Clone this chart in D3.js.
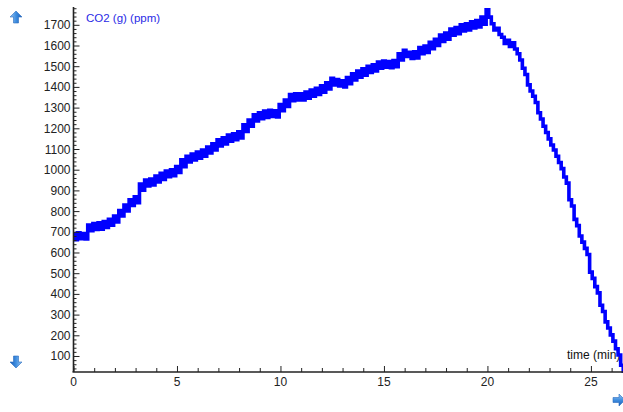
<!DOCTYPE html>
<html><head><meta charset="utf-8">
<script src="https://cdn.jsdelivr.net/npm/d3@7"></script>
<style>html,body{margin:0;padding:0;background:#fff;overflow:hidden}svg{display:block}</style>
</head><body>
<svg id="chart" width="623" height="412"></svg>
<script>
// ---- data (time in min, CO2 in ppm) ----
const timeMin = [
0,0.125,0.25,0.375,0.5,0.625,0.75,0.875,1,1.125,1.25,1.375,1.5,1.625,1.75,1.875,
2,2.125,2.25,2.375,2.5,2.625,2.75,2.875,3,3.125,3.25,3.375,3.5,3.625,3.75,3.875,
4,4.125,4.25,4.375,4.5,4.625,4.75,4.875,5,5.125,5.25,5.375,5.5,5.625,5.75,5.875,
6,6.125,6.25,6.375,6.5,6.625,6.75,6.875,7,7.125,7.25,7.375,7.5,7.625,7.75,7.875,
8,8.125,8.25,8.375,8.5,8.625,8.75,8.875,9,9.125,9.25,9.375,9.5,9.625,9.75,9.875,
10,10.125,10.25,10.375,10.5,10.625,10.75,10.875,11,11.125,11.25,11.375,11.5,11.625,11.75,11.875,
12,12.125,12.25,12.375,12.5,12.625,12.75,12.875,13,13.125,13.25,13.375,13.5,13.625,13.75,13.875,
14,14.125,14.25,14.375,14.5,14.625,14.75,14.875,15,15.125,15.25,15.375,15.5,15.625,15.75,15.875,
16,16.125,16.25,16.375,16.5,16.625,16.75,16.875,17,17.125,17.25,17.375,17.5,17.625,17.75,17.875,
18,18.125,18.25,18.375,18.5,18.625,18.75,18.875,19,19.125,19.25,19.375,19.5,19.625,19.75,19.875,
20,20.125,20.25,20.375,20.5,20.625,20.75,20.875,21,21.125,21.25,21.375,21.5,21.625,21.75,21.875,
22,22.125,22.25,22.375,22.5,22.625,22.75,22.875,23,23.125,23.25,23.375,23.5,23.625,23.75,23.875,
24,24.125,24.25,24.375,24.5,24.625,24.75,24.875,25,25.125,25.25,25.375,25.5,25.625,25.75,25.875,
26,26.125,26.25,26.375,26.5,26.625
];
const co2Ppm = [
690,662,695,667,691,665,733,705,740,711,743,713,749,721,760,732,
776,748,803,777,829,801,854,827,869,841,931,901,950,921,955,926,
969,941,983,953,994,966,1000,971,1015,987,1048,1015,1065,1037,1076,1047,
1085,1055,1095,1065,1109,1081,1125,1096,1145,1115,1154,1125,1167,1138,1174,1145,
1183,1153,1217,1185,1240,1210,1265,1235,1275,1246,1283,1253,1287,1257,1285,1255,
1315,1285,1336,1305,1363,1333,1367,1337,1367,1337,1375,1345,1385,1355,1393,1363,
1405,1375,1420,1390,1441,1409,1435,1405,1430,1400,1445,1415,1463,1433,1477,1447,
1487,1457,1500,1470,1507,1477,1520,1490,1525,1495,1523,1493,1527,1497,1560,1530,
1577,1547,1567,1537,1570,1540,1590,1560,1597,1567,1615,1585,1630,1600,1650,1620,
1660,1630,1680,1650,1687,1657,1700,1670,1705,1675,1715,1685,1720,1690,1737,1703,
1773,1737,1705,1675,1683,1653,1640,1610,1625,1595,1613,1583,1560,1530,1490,1460,
1410,1380,1355,1325,1275,1245,1210,1180,1149,1119,1095,1065,1035,1005,965,935,
855,825,760,730,680,650,620,590,505,475,435,405,345,315,265,235,
202,172,135,105,55,25
];
const xTickValues = [0,5,10,15,20,25];
const yTickValues = [100,200,300,400,500,600,700,800,900,1000,1100,1200,1300,1400,1500,1600,1700];
const yLabel = "CO2 (g) (ppm)";
const xLabel = "time (min)";

const svg = d3.select("#chart");
const x0 = 73.5, x1 = 623, yTop = 7, yBot = 372;
const x = d3.scaleLinear().domain([0, 26.55]).range([x0, x1]);
const y = d3.scaleLinear().domain([22.7, 1786]).range([yBot, yTop]);
const font = "Liberation Sans, Arial, sans-serif";
const axisColor = "#222";

// x label (drawn under the line)
svg.append("text").attr("x", 567).attr("y", 359)
  .attr("font-family", font).attr("font-size", 12)
  .attr("fill", "#111").text(xLabel);

// y label
svg.append("text").attr("x", 86).attr("y", 22)
  .attr("font-family", font).attr("font-size", 11.5)
  .attr("fill", "#2a2ae6").text(yLabel);

const defs = svg.append("defs");
defs.append("clipPath").attr("id", "plotclip")
  .append("rect").attr("x", x0).attr("y", 0).attr("width", x1 - x0).attr("height", yBot + 1);

const pts = timeMin.map((t, i) => [t, co2Ppm[i]]);
svg.append("path").datum(pts)
  .attr("clip-path", "url(#plotclip)")
  .attr("fill", "none").attr("stroke", "#0000ff").attr("stroke-width", 3.6)
  .attr("stroke-linejoin", "miter")
  .attr("d", d3.line().x(d => x(d[0])).y(d => y(d[1])).curve(d3.curveStep));

// Y axis: minor ticks every 20, major every 100, pointing inward
const gy = svg.append("g").attr("transform", `translate(${x0},0)`);
gy.call(d3.axisRight(y).tickValues(d3.range(40, 1781, 20).filter(v => v % 100 !== 0)).tickSize(3).tickFormat(""));
gy.select(".domain").remove();
const gyMaj = svg.append("g").attr("transform", `translate(${x0},0)`);
gyMaj.call(d3.axisRight(y).tickValues(yTickValues).tickSize(6).tickFormat(""));
gyMaj.select(".domain").remove();
svg.selectAll("g .tick line").attr("stroke", axisColor).attr("stroke-width", 1);
svg.append("g").selectAll("text").data(yTickValues).join("text")
  .attr("x", x0 - 3).attr("y", d => y(d) + 4.5)
  .attr("text-anchor", "end").attr("font-family", font).attr("font-size", 12)
  .attr("fill", "#222").text(d => d);
svg.append("line").attr("x1", x0).attr("x2", x0).attr("y1", yTop).attr("y2", yBot)
  .attr("stroke", axisColor).attr("stroke-width", 1.6);

// X axis: minor ticks every 1, major every 5, pointing up
const gx = svg.append("g").attr("transform", `translate(0,${yBot})`);
gx.call(d3.axisTop(x).tickValues(d3.range(1, 27, 1).filter(v => v % 5 !== 0)).tickSize(4).tickFormat(""));
gx.select(".domain").remove();
const gxMaj = svg.append("g").attr("transform", `translate(0,${yBot})`);
gxMaj.call(d3.axisTop(x).tickValues(xTickValues).tickSize(6).tickFormat(""));
gxMaj.select(".domain").remove();
gx.selectAll(".tick line").attr("stroke", axisColor);
gxMaj.selectAll(".tick line").attr("stroke", axisColor);
svg.append("g").selectAll("text").data(xTickValues).join("text")
  .attr("x", d => x(d)).attr("y", yBot + 14)
  .attr("text-anchor", "middle").attr("font-family", font).attr("font-size", 12)
  .attr("fill", "#222").text(d => d);
svg.append("line").attr("x1", x0 - 1).attr("x2", x1).attr("y1", yBot).attr("y2", yBot)
  .attr("stroke", axisColor).attr("stroke-width", 1.6);

// arrow icons
const grad = defs.append("linearGradient").attr("id", "ag").attr("x1", 0).attr("x2", 1);
grad.append("stop").attr("offset", "0").attr("stop-color", "#9cc8f2");
grad.append("stop").attr("offset", "0.5").attr("stop-color", "#3f8ee0");
grad.append("stop").attr("offset", "1").attr("stop-color", "#1c5fb8");
const arrowUp = "M0,-6 L6,0 L2.5,0 L2.5,6 L-2.5,6 L-2.5,0 L-6,0 Z";
[["translate(16,17)"], ["translate(16,362) rotate(180)"], ["translate(619,400) rotate(90)"]]
  .forEach(([tr]) => svg.append("path").attr("d", arrowUp).attr("transform", tr)
    .attr("fill", "url(#ag)").attr("stroke", "#2a6cc0").attr("stroke-width", 0.6));
</script>
</body></html>
